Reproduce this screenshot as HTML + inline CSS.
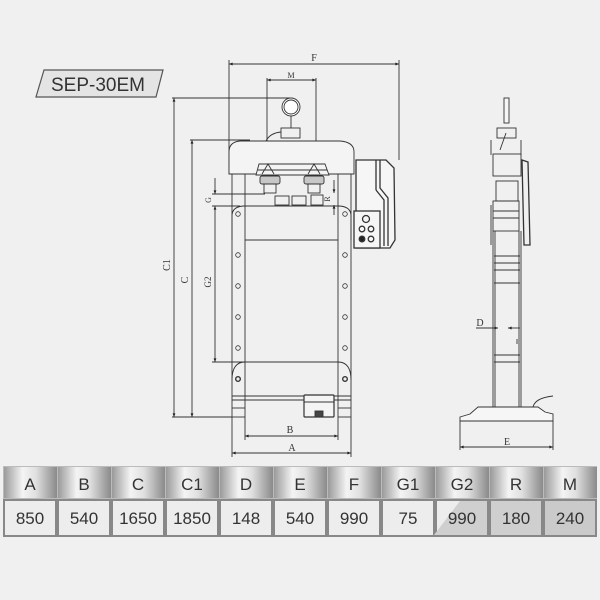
<!DOCTYPE html>
<html><head><meta charset="utf-8"><style>
html,body{margin:0;padding:0;background:#f0f0f0;}
svg{display:block}
text{font-family:"Liberation Serif",serif;fill:#333}
.t{font-family:"Liberation Sans",sans-serif;fill:#333}
</style></head><body>
<svg width="600" height="600" viewBox="0 0 600 600" xmlns="http://www.w3.org/2000/svg">
<defs>
<linearGradient id="hg" x1="0" x2="1" y1="0" y2="0">
<stop offset="0" stop-color="#9a9a9a"/><stop offset="0.35" stop-color="#f4f4f4"/><stop offset="0.6" stop-color="#e0e0e0"/><stop offset="1" stop-color="#8a8a8a"/>
</linearGradient>
<linearGradient id="vg" x1="0" x2="0" y1="0" y2="1">
<stop offset="0" stop-color="#fff" stop-opacity="0.3"/><stop offset="1" stop-color="#000" stop-opacity="0.15"/>
</linearGradient>
<marker id="ar" viewBox="0 0 10 10" refX="10" refY="5" markerWidth="6" markerHeight="4" orient="auto-start-reverse"><path d="M0,1 L10,5 L0,9z" fill="#222"/></marker>
</defs>
<rect width="600" height="600" fill="#f0f0f0"/>
<!-- label -->
<polygon points="36,97 44,70 163,70 156,97" fill="#e4e4e4" stroke="#555" stroke-width="1.2"/>
<text class="t" x="98" y="91" font-size="19" text-anchor="middle">SEP-30EM</text>

<g stroke="#333" stroke-width="0.9" fill="none">
<!-- F dim -->
<line x1="229" y1="64" x2="399" y2="64" marker-start="url(#ar)" marker-end="url(#ar)"/>
<line x1="229" y1="60" x2="229" y2="174"/><line x1="399" y1="60" x2="399" y2="160"/>
<!-- M -->
<line x1="267" y1="80" x2="316" y2="80" marker-start="url(#ar)" marker-end="url(#ar)"/>
<line x1="267" y1="78" x2="267" y2="170"/><line x1="316" y1="78" x2="316" y2="170"/>
<!-- C1 -->
<line x1="174" y1="98" x2="174" y2="417" marker-start="url(#ar)" marker-end="url(#ar)"/>
<line x1="172" y1="98" x2="290" y2="98"/>
<line x1="172" y1="417" x2="232" y2="417"/>
<!-- C -->
<line x1="192" y1="140" x2="192" y2="417" marker-start="url(#ar)" marker-end="url(#ar)"/>
<line x1="190" y1="140" x2="250" y2="140"/>
<!-- G / G2 -->
<line x1="215" y1="178" x2="215" y2="194" marker-end="url(#ar)"/>
<line x1="215" y1="206" x2="215" y2="362" marker-start="url(#ar)" marker-end="url(#ar)"/>
<line x1="212" y1="194" x2="265" y2="194"/><line x1="212" y1="206" x2="240" y2="206"/>
<line x1="212" y1="362" x2="265" y2="362"/>
<!-- R -->
<line x1="334" y1="180" x2="334" y2="193" marker-end="url(#ar)"/>
<line x1="334" y1="205" x2="334" y2="215" marker-start="url(#ar)"/>
<!-- head -->
<path d="M229,174 L229,152 Q229,142 240,141 L340,141 Q354,142 354,152 L354,174 Z" fill="#f4f4f4"/>
<circle cx="291" cy="107" r="9" fill="#fff"/><circle cx="291" cy="107" r="7"/>
<line x1="291" y1="116" x2="291" y2="128"/>
<rect x="281" y="128" width="19" height="10"/>
<path d="M281,132 Q270,133 266,141"/>
<!-- ram plate -->
<path d="M256,175 L259,164 L325,164 L329,175 Z" fill="#f4f4f4"/>
<line x1="258" y1="170" x2="327" y2="170"/>
<path d="M262,174 L268,164 L274,174 M308,174 L314,164 L320,174"/>
<rect x="260" y="176" width="20" height="8" rx="2" fill="#222" fill-opacity="0.2"/>
<rect x="304" y="176" width="20" height="8" rx="2" fill="#222" fill-opacity="0.2"/>
<rect x="264" y="184" width="12" height="9"/><rect x="308" y="184" width="12" height="9"/>
<rect x="275" y="196" width="14" height="9"/><rect x="292" y="196" width="14" height="9"/>
<rect x="311" y="195" width="12" height="10"/>
<!-- columns -->
<line x1="232" y1="174" x2="232" y2="417"/><line x1="245" y1="174" x2="245" y2="417"/>
<line x1="338" y1="174" x2="338" y2="417"/><line x1="351" y1="174" x2="351" y2="417"/>
<!-- upper table -->
<path d="M232,240 L232,216 Q232,206 245,206 L338,206 Q351,206 351,216 L351,240"/>
<line x1="245" y1="240" x2="338" y2="240"/>
<!-- lower crossbar -->
<path d="M232,380 Q232,362 245,362 L338,362 Q351,362 351,380"/>
<line x1="232" y1="396" x2="351" y2="396"/><line x1="232" y1="400" x2="351" y2="400"/>
<line x1="232" y1="408" x2="245" y2="408"/><line x1="338" y1="408" x2="351" y2="408"/>
<line x1="232" y1="417" x2="245" y2="417"/><line x1="338" y1="417" x2="351" y2="417"/>
<rect x="304" y="395" width="30" height="22" rx="1" fill="#f4f4f4" stroke-width="1.2"/>
<line x1="304" y1="402" x2="334" y2="402"/>
<rect x="315" y="411" width="8" height="6" fill="#444"/>
<!-- holes -->
<g stroke-width="0.8">
<circle cx="238" cy="214" r="2.3"/><circle cx="345" cy="214" r="2.3"/>
<circle cx="238" cy="255" r="2.3"/><circle cx="345" cy="255" r="2.3"/>
<circle cx="238" cy="286" r="2.3"/><circle cx="345" cy="286" r="2.3"/>
<circle cx="238" cy="317" r="2.3"/><circle cx="345" cy="317" r="2.3"/>
<circle cx="238" cy="348" r="2.3"/><circle cx="345" cy="348" r="2.3"/>
<circle cx="238" cy="379" r="2.3" stroke-width="1.4"/><circle cx="345" cy="379" r="2.3" stroke-width="1.4"/>
</g>
<!-- B / A -->
<line x1="245" y1="436" x2="338" y2="436" marker-start="url(#ar)" marker-end="url(#ar)"/>
<line x1="245" y1="417" x2="245" y2="440"/><line x1="338" y1="417" x2="338" y2="440"/>
<line x1="232" y1="453" x2="351" y2="453" marker-start="url(#ar)" marker-end="url(#ar)"/>
<line x1="232" y1="417" x2="232" y2="457"/><line x1="351" y1="417" x2="351" y2="457"/>
<!-- control box -->
<g stroke-width="1.3">
<path d="M356,160 L386,160 L394,168 L395,240 L390,248 L356,248 Z" fill="#f6f6f6"/>
<line x1="376" y1="160" x2="376" y2="190"/><path d="M376,190 L384,200 L384,246"/>
<path d="M380,160 L380,188 L388,198 L388,246"/>
<rect x="354" y="211" width="26" height="37" fill="#f6f6f6"/>
<circle cx="366" cy="219" r="3.5"/><circle cx="362" cy="229" r="2.8"/><circle cx="371" cy="229" r="2.8"/>
<circle cx="362" cy="239" r="2.8" fill="#222"/><circle cx="371" cy="239" r="2.8"/>
</g>
<!-- side view -->
<rect x="504" y="98" width="5" height="25" fill="#f6f6f6"/>
<rect x="497" y="128" width="19" height="10"/>
<line x1="500" y1="150" x2="506" y2="133"/>
<line x1="491" y1="140" x2="491" y2="155"/><line x1="521" y1="140" x2="521" y2="155"/>
<rect x="493" y="154" width="28" height="22"/>
<rect x="496" y="181" width="22" height="20"/>
<rect x="493" y="201" width="26" height="30"/>
<line x1="493" y1="211" x2="519" y2="211"/><line x1="493" y1="218" x2="519" y2="218"/>
<path d="M522,160 L528,162 L530,245 L524,245 Z" stroke-width="1.3"/>
<line x1="491" y1="205" x2="491" y2="245"/>
<line x1="493" y1="231" x2="493" y2="408"/><line x1="495" y1="231" x2="495" y2="408"/>
<line x1="519" y1="231" x2="519" y2="408"/><line x1="521" y1="231" x2="521" y2="408"/>
<line x1="494" y1="256" x2="520" y2="256"/><line x1="494" y1="263" x2="520" y2="263"/>
<line x1="494" y1="270" x2="520" y2="270"/><line x1="494" y1="283" x2="520" y2="283"/>
<line x1="494" y1="355" x2="520" y2="355"/><line x1="494" y1="362" x2="520" y2="362"/>
<line x1="476" y1="328" x2="498" y2="328" marker-end="url(#ar)"/>
<line x1="520" y1="328" x2="508" y2="328" marker-end="url(#ar)"/>
<line x1="517" y1="339" x2="517" y2="344"/>
<path d="M460,417 L470,414 L478,407 L538,407 L545,412 L553,414 L553,421 L460,421 Z" fill="#f6f6f6"/>
<path d="M533,407 Q535,398 553,396"/>
<line x1="460" y1="421" x2="460" y2="450"/><line x1="553" y1="421" x2="553" y2="450"/>
<line x1="460" y1="447" x2="553" y2="447" marker-start="url(#ar)" marker-end="url(#ar)"/>
</g>
<g font-size="10">
<text x="314" y="61" text-anchor="middle">F</text>
<text x="291" y="78" text-anchor="middle" font-size="8">M</text>
<text x="290" y="433" text-anchor="middle">B</text>
<text x="292" y="451" text-anchor="middle">A</text>
<text x="507" y="445" text-anchor="middle">E</text>
<text x="480" y="326" text-anchor="middle">D</text>
<text transform="translate(170,265) rotate(-90)" text-anchor="middle">C1</text>
<text transform="translate(188,280) rotate(-90)" text-anchor="middle">C</text>
<text transform="translate(211,282) rotate(-90)" text-anchor="middle" font-size="9">G2</text>
<text transform="translate(211,200) rotate(-90)" text-anchor="middle" font-size="8">G</text>
<text transform="translate(330,199) rotate(-90)" text-anchor="middle" font-size="8">R</text>
</g>
<!-- table -->
<g>
<rect x="3" y="466" width="594" height="33" fill="#bbb"/>
<g fill="url(#hg)">
<rect x="4" y="467" width="53" height="31"/><rect x="58" y="467" width="53" height="31"/><rect x="112" y="467" width="53" height="31"/><rect x="166" y="467" width="53" height="31"/><rect x="220" y="467" width="53" height="31"/><rect x="274" y="467" width="53" height="31"/><rect x="328" y="467" width="53" height="31"/><rect x="382" y="467" width="53" height="31"/><rect x="436" y="467" width="53" height="31"/><rect x="490" y="467" width="53" height="31"/><rect x="544" y="467" width="53" height="31"/>
</g>
<rect x="3" y="499" width="594" height="38" fill="#888"/>
<g fill="#ededed">
<rect x="5" y="501" width="50" height="34"/><rect x="59" y="501" width="50" height="34"/><rect x="113" y="501" width="50" height="34"/><rect x="167" y="501" width="50" height="34"/><rect x="221" y="501" width="50" height="34"/><rect x="275" y="501" width="50" height="34"/><rect x="329" y="501" width="50" height="34"/><rect x="383" y="501" width="50" height="34"/><rect x="437" y="501" width="50" height="34"/>
</g>
<polygon points="434,535 460,501 487,501 487,535" fill="#cfcfcf"/>
<rect x="491" y="501" width="50" height="34" fill="#cfcfcf"/><rect x="545" y="501" width="50" height="34" fill="#cacaca"/>
<g class="t" font-size="17" text-anchor="middle" style="font-family:'Liberation Sans',sans-serif">
<text class="t" x="30" y="490">A</text><text class="t" x="84" y="490">B</text><text class="t" x="138" y="490">C</text><text class="t" x="192" y="490">C1</text><text class="t" x="246" y="490">D</text><text class="t" x="300" y="490">E</text><text class="t" x="354" y="490">F</text><text class="t" x="408" y="490">G1</text><text class="t" x="462" y="490">G2</text><text class="t" x="516" y="490">R</text><text class="t" x="570" y="490">M</text>
<text class="t" x="30" y="524">850</text><text class="t" x="84" y="524">540</text><text class="t" x="138" y="524">1650</text><text class="t" x="192" y="524">1850</text><text class="t" x="246" y="524">148</text><text class="t" x="300" y="524">540</text><text class="t" x="354" y="524">990</text><text class="t" x="408" y="524">75</text><text class="t" x="462" y="524">990</text><text class="t" x="516" y="524">180</text><text class="t" x="570" y="524">240</text>
</g>
</g>
</svg>
</body></html>
